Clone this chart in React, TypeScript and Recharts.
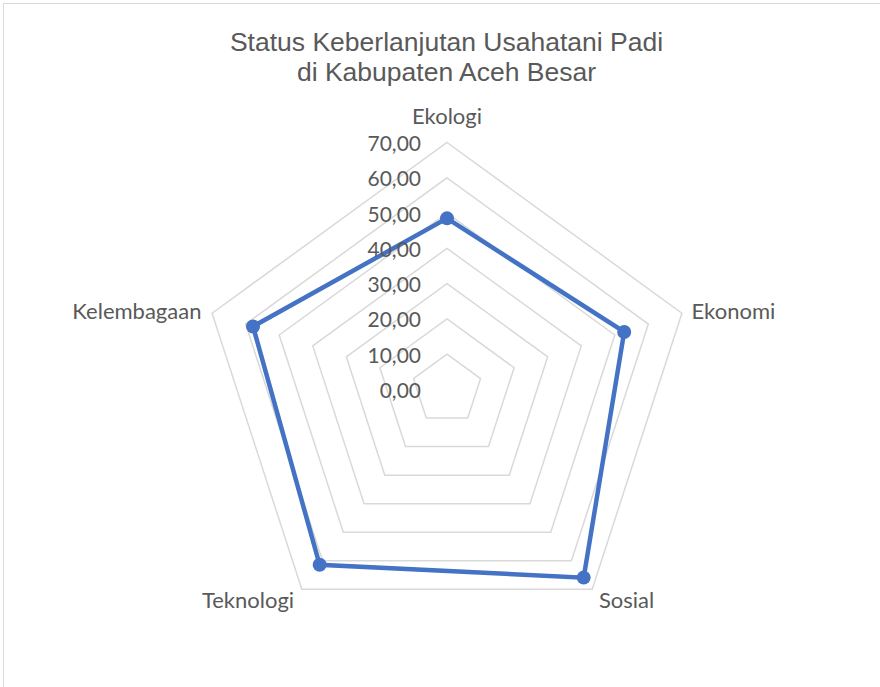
import { PolarAngleAxis, PolarGrid, PolarRadiusAxis, Radar, RadarChart } from "recharts";

const dimensions = ["Ekologi", "Ekonomi", "Sosial", "Teknologi", "Kelembagaan"];
const scores = [48.5, 52.8, 65.9, 61.4, 57.8];
const radiusTicks = [0, 10, 20, 30, 40, 50, 60, 70];

const data = dimensions.map((name, i) => ({ name, value: scores[i] }));

const gray = "#595959";
const blue = "#4472C4";

function AngleTick(props: any) {
  const { x, y, cx, cy, payload } = props;
  const dx = x - cx;
  const dy = y - cy;
  let anchor = "middle";
  let tx = x;
  let ty = y;
  if (Math.abs(dx) < 2) {
    ty = y - 19;
  } else if (dx > 0) {
    anchor = "start";
    tx = x + 2;
    ty = dy > 0 ? y + 4 : y;
  } else {
    anchor = "end";
    tx = x - 3;
    ty = dy > 0 ? y + 4 : y;
  }
  return (
    <text x={tx} y={ty} textAnchor={anchor} dominantBaseline="central" fill={gray} fontSize={22} fontFamily="Lato">
      {payload.value}
    </text>
  );
}

function RadiusTick(props: any) {
  const { x, y, payload } = props;
  return (
    <text x={x - 26} y={y} textAnchor="end" dominantBaseline="central" fill={gray} fontSize={21} fontFamily="Lato">
      {Number(payload.value).toFixed(2).replace(".", ",")}
    </text>
  );
}

function Dot(props: any) {
  const { cx, cy, index } = props;
  return <circle key={index} cx={cx} cy={cy} r={7} fill={blue} />;
}

export default function App() {
  return (
    <div style={{ position: "absolute", left: 0, top: 0, width: 880, height: 687, overflow: "hidden", background: "#fff" }}>
      <div style={{ position: "absolute", left: 3, top: 3, width: 900, height: 700, border: "1.5px solid #d9d9d9" }} />
      <div
        style={{
          position: "absolute",
          left: 0,
          top: 27,
          width: 893,
          textAlign: "center",
          fontFamily: "'Liberation Sans', Arial, sans-serif",
          fontSize: 26.5,
          lineHeight: "30px",
          color: gray,
        }}
      >
        Status Keberlanjutan Usahatani Padi
        <br />
        di Kabupaten Aceh Besar
      </div>
      <div style={{ position: "absolute", left: 0, top: 0 }}>
        <RadarChart width={880} height={687} data={data} cx={447} cy={389.5} outerRadius={247}>
          <PolarGrid gridType="polygon" radialLines={false} stroke="#d9d9d9" strokeWidth={1.5} />
          <PolarAngleAxis dataKey="name" tick={<AngleTick />} axisLine={false} tickLine={false} />
          <PolarRadiusAxis
            angle={90}
            domain={[0, 70]}
            ticks={radiusTicks as any}
            tickCount={8}
            tick={<RadiusTick />}
            axisLine={false}
            tickLine={false}
          />
          <Radar
            dataKey="value"
            stroke={blue}
            strokeWidth={4.5}
            fill="none"
            fillOpacity={0}
            dot={Dot}
            isAnimationActive={false}
          />
        </RadarChart>
      </div>
    </div>
  );
}
